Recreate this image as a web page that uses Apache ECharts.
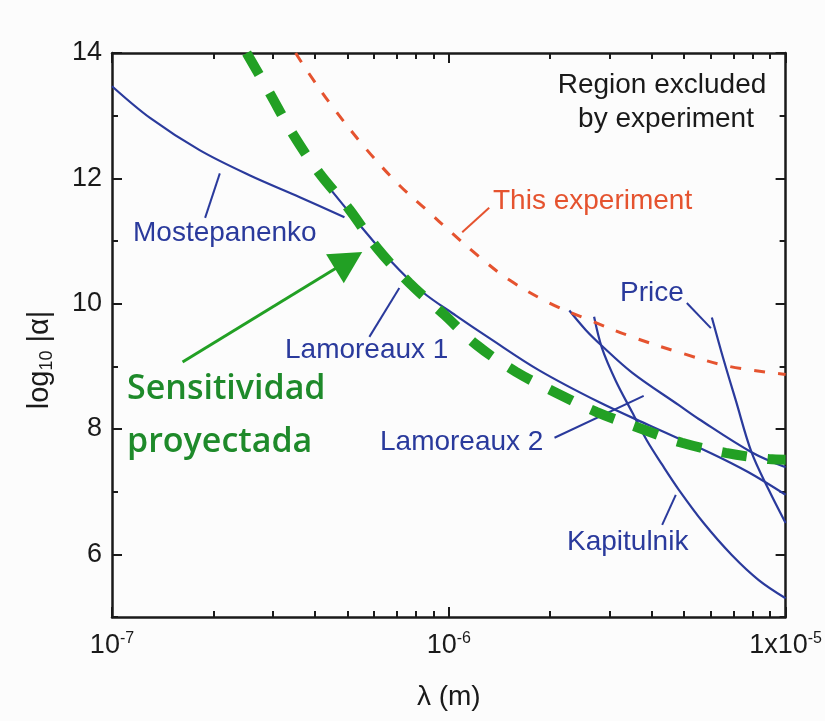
<!DOCTYPE html>
<html>
<head>
<meta charset="utf-8">
<script src="https://cdn.jsdelivr.net/npm/echarts@6/dist/echarts.min.js"></script>
<style>
html,body{margin:0;padding:0;background:#fcfcfc;}
#chart{width:825px;height:721px;}
</style>
</head>
<body>
<div id="chart"></div>
<script>
// Limits on the Yukawa strength log10|alpha| versus range lambda (m)

// ---- axes ----
const xTicks = [1e-7, 1e-6, 1e-5];
const xTickLabels = [['10', '-7'], ['10', '-6'], ['1x10', '-5']];
const yTicks = [6, 8, 10, 12, 14];
const yMinorTicks = [5, 7, 9, 11, 13];
const decadeMultipliers = [2, 3, 4, 5, 6, 7, 8, 9];

// ---- constraint curves (lambda in m, log10|alpha|) ----
const mostepanenkoLambda = [1.0e-7, 1.30e-7, 1.82e-7, 2.56e-7, 3.61e-7, 4.90e-7];
const mostepanenkoAlpha  = [13.47, 12.96, 12.45, 12.05, 11.70, 11.38];

const lamoreaux1Lambda = [4.43e-7, 5.51e-7, 6.67e-7, 8.34e-7, 1.05e-6, 1.32e-6, 1.85e-6, 2.79e-6, 3.93e-6, 5.92e-6, 7.76e-6, 1.0e-5];
const lamoreaux1Alpha  = [11.84, 11.22, 10.70, 10.19, 9.81, 9.45, 8.94, 8.43, 8.06, 7.63, 7.31, 6.95];

const lamoreaux2Lambda = [2.28e-6, 2.55e-6, 2.83e-6, 3.50e-6, 4.82e-6, 5.52e-6, 7.92e-6, 1.0e-5];
const lamoreaux2Alpha  = [9.89, 9.58, 9.34, 8.90, 8.38, 8.16, 7.63, 7.39];

const kapitulnikLambda = [2.70e-6, 2.85e-6, 3.13e-6, 3.50e-6, 3.87e-6, 4.30e-6, 4.82e-6, 5.71e-6, 6.92e-6, 8.32e-6, 1.0e-5];
const kapitulnikAlpha  = [9.79, 9.29, 8.77, 8.27, 7.82, 7.43, 7.03, 6.50, 5.99, 5.59, 5.30];

const priceLambda = [6.04e-6, 6.55e-6, 7.11e-6, 7.92e-6, 8.91e-6, 1.0e-5];
const priceAlpha  = [9.78, 9.10, 8.46, 7.63, 7.03, 6.50];

const thisExpLambda = [3.51e-7, 3.78e-7, 4.52e-7, 5.70e-7, 7.13e-7, 8.57e-7, 1.02e-6, 1.23e-6, 1.51e-6, 1.99e-6, 2.61e-6, 3.50e-6, 4.92e-6, 6.78e-6, 1.0e-5];
const thisExpAlpha  = [14.0, 13.73, 13.14, 12.46, 11.89, 11.50, 11.13, 10.75, 10.38, 10.01, 9.74, 9.47, 9.21, 9.00, 8.87];

const projectedLambda = [2.51e-7, 2.94e-7, 3.43e-7, 4.13e-7, 5.07e-7, 6.14e-7, 7.64e-7, 9.71e-7, 1.21e-6, 1.585e-6, 2.08e-6, 2.75e-6, 3.66e-6, 4.92e-6, 6.64e-6, 8.91e-6, 1.0e-5];
const projectedAlpha  = [14.0, 13.36, 12.72, 12.08, 11.50, 10.88, 10.33, 9.82, 9.34, 8.91, 8.58, 8.27, 8.02, 7.78, 7.62, 7.52, 7.51];

// ---- leader lines from labels to curves (data coordinates) ----
const leaderMostepanenko = [[1.89e-7, 11.37], [2.09e-7, 12.08]];
const leaderLamoreaux1   = [[5.81e-7, 9.47], [7.13e-7, 10.25]];
const leaderLamoreaux2   = [[2.06e-6, 7.86], [3.79e-6, 8.53]];
const leaderKapitulnik   = [[4.30e-6, 6.47], [4.72e-6, 6.95]];
const leaderPrice        = [[5.09e-6, 10.01], [6.0e-6, 9.61]];
const leaderThisExp      = [[1.096e-6, 11.14], [1.318e-6, 11.53]];
const sensitivityArrow   = [[1.62e-7, 9.07], [5.04e-7, 10.69]];

const BLUE = '#2a3a9c';
const RED = '#e5532f';
const GREEN = '#22a024';
const GREEN_TEXT = '#1e8a2a';
const INK = '#1a1a1a';
const FONT = '"Liberation Sans", Arial, Helvetica, sans-serif';
const GREEN_FONT = '"Open Sans", "Noto Sans", sans-serif';

function zip(xs, ys) { return xs.map((x, i) => [x, ys[i]]); }

const minorX = [];
[-7, -6].forEach(e => decadeMultipliers.forEach(m => minorX.push(e + Math.log10(m))));

function curve(name, xs, ys, style) {
  return {
    name, type: 'line', xAxisIndex: 0, yAxisIndex: 0,
    data: zip(xs, ys), showSymbol: false, symbol: 'none',
    smooth: 0.35, clip: true, silent: true,
    lineStyle: style, z: 3
  };
}
function leader(name, pts, color) {
  return {
    name, type: 'line', xAxisIndex: 0, yAxisIndex: 0,
    data: pts, showSymbol: false, symbol: 'none', silent: true,
    lineStyle: { color, width: 2 }, z: 4
  };
}
function label(text, x, y, color, align) {
  return {
    type: 'text', x, y, silent: true,
    style: { text, fill: color, font: '28px ' + FONT, align: align || 'left', verticalAlign: 'middle' }
  };
}

const axisLineStyle = { color: INK, width: 2.5 };

const logAxisBase = {
  type: 'log', logBase: 10, min: xTicks[0], max: xTicks[xTicks.length - 1],
  splitLine: { show: false }, minorTick: { show: false }, minorSplitLine: { show: false }
};
const minorXAxisBase = {
  type: 'value', min: -7, max: -5, splitLine: { show: false },
  axisLine: { show: false }, axisLabel: { show: false },
  axisTick: { show: true, inside: true, length: 6, customValues: minorX, lineStyle: { color: INK, width: 2 } }
};
const yBase = { type: 'value', min: 5, max: 14, splitLine: { show: false } };

const option = {
  backgroundColor: '#fcfcfc',
  animation: false,
  grid: { left: 112, top: 53, width: 675, height: 564, containLabel: false },
  xAxis: [
    Object.assign({}, logAxisBase, {
      position: 'bottom',
      axisLine: { show: true, lineStyle: axisLineStyle },
      axisTick: { show: true, inside: true, length: 10, lineStyle: { color: INK, width: 2 } },
      axisLabel: {
        show: true, margin: 14, color: INK,
        formatter: v => {
          const e = Math.round(Math.log10(v));
          const idx = xTicks.findIndex(t => Math.round(Math.log10(t)) === e);
          if (idx < 0) return '';
          return '{b|' + xTickLabels[idx][0] + '}{s|' + xTickLabels[idx][1] + '}';
        },
        rich: {
          b: { fontSize: 27, fontFamily: FONT, color: INK, lineHeight: 30 },
          s: { fontSize: 16, fontFamily: FONT, color: INK, verticalAlign: 'top', lineHeight: 16 }
        }
      },
      name: 'λ (m)', nameLocation: 'middle', nameGap: 66,
      nameTextStyle: { fontSize: 28, fontFamily: FONT, color: INK }
    }),
    Object.assign({}, minorXAxisBase, { position: 'bottom' }),
    Object.assign({}, logAxisBase, {
      position: 'top',
      axisLine: { show: true, lineStyle: axisLineStyle },
      axisTick: { show: true, inside: true, length: 10, lineStyle: { color: INK, width: 2 } },
      axisLabel: { show: false }
    }),
    Object.assign({}, minorXAxisBase, { position: 'top' })
  ],
  yAxis: [
    Object.assign({}, yBase, {
      position: 'left',
      axisLine: { show: true, lineStyle: axisLineStyle },
      axisTick: { show: true, inside: true, length: 10, customValues: yTicks, lineStyle: { color: INK, width: 2 } },
      axisLabel: { show: true, customValues: yTicks, margin: 10, fontSize: 27, fontFamily: FONT, color: INK },
      name: '{a|log}{s|10}{a| |α|}', nameLocation: 'middle', nameRotate: 90, nameGap: 56,
      nameTextStyle: {
        padding: [0, 50, 0, 0],
        rich: {
          a: { fontSize: 29, fontFamily: FONT, color: INK, lineHeight: 32 },
          s: { fontSize: 18, fontFamily: FONT, color: INK, verticalAlign: 'bottom', lineHeight: 18 }
        }
      }
    }),
    Object.assign({}, yBase, {
      position: 'left',
      axisLine: { show: false }, axisLabel: { show: false },
      axisTick: { show: true, inside: true, length: 6, customValues: yMinorTicks, lineStyle: { color: INK, width: 2 } }
    }),
    Object.assign({}, yBase, {
      position: 'right',
      axisLine: { show: true, lineStyle: axisLineStyle }, axisLabel: { show: false },
      axisTick: { show: true, inside: true, length: 10, customValues: yTicks, lineStyle: { color: INK, width: 2 } }
    }),
    Object.assign({}, yBase, {
      position: 'right',
      axisLine: { show: false }, axisLabel: { show: false },
      axisTick: { show: true, inside: true, length: 6, customValues: yMinorTicks, lineStyle: { color: INK, width: 2 } }
    })
  ],
  series: [
    curve('Mostepanenko', mostepanenkoLambda, mostepanenkoAlpha, { color: BLUE, width: 2.2 }),
    curve('Lamoreaux 1', lamoreaux1Lambda, lamoreaux1Alpha, { color: BLUE, width: 2.2 }),
    curve('Lamoreaux 2', lamoreaux2Lambda, lamoreaux2Alpha, { color: BLUE, width: 2.2 }),
    curve('Kapitulnik', kapitulnikLambda, kapitulnikAlpha, { color: BLUE, width: 2.2 }),
    curve('Price', priceLambda, priceAlpha, { color: BLUE, width: 2.2 }),
    curve('This experiment', thisExpLambda, thisExpAlpha, { color: RED, width: 3, type: [11, 13], cap: 'butt' }),
    Object.assign(curve('Sensitividad proyectada', projectedLambda, projectedAlpha,
      { color: GREEN, width: 10, type: [25, 21], cap: 'butt' }), { z: 5 }),
    leader('leader Mostepanenko', leaderMostepanenko, BLUE),
    leader('leader Lamoreaux 1', leaderLamoreaux1, BLUE),
    leader('leader Lamoreaux 2', leaderLamoreaux2, BLUE),
    leader('leader Kapitulnik', leaderKapitulnik, BLUE),
    leader('leader Price', leaderPrice, BLUE),
    leader('leader This experiment', leaderThisExp, RED),
    {
      name: 'arrow', type: 'line', xAxisIndex: 0, yAxisIndex: 0, data: [], silent: true,
      markLine: {
        silent: true, animation: false,
        symbol: ['none', 'triangle'], symbolSize: [34, 32],
        label: { show: false },
        lineStyle: { color: GREEN, width: 3, type: 'solid' },
        data: [[{ coord: sensitivityArrow[0] }, { coord: sensitivityArrow[1] }]]
      }
    }
  ],
  graphic: [
    label('Mostepanenko', 133, 233, BLUE),
    label('Lamoreaux 1', 285, 350, BLUE),
    label('Lamoreaux 2', 380, 442, BLUE),
    label('Kapitulnik', 567, 542, BLUE),
    label('Price', 620, 293, BLUE),
    label('This experiment', 493, 201, RED),
    label('Region excluded', 662, 85, INK, 'center'),
    label('by experiment', 666, 119, INK, 'center'),
    { type: 'text', x: 127, y: 389, silent: true, style: { text: 'Sensitividad', fill: GREEN_TEXT, font: '600 34px ' + GREEN_FONT, align: 'left', verticalAlign: 'middle' } },
    { type: 'text', x: 127, y: 442, silent: true, style: { text: 'proyectada', fill: GREEN_TEXT, font: '600 34px ' + GREEN_FONT, align: 'left', verticalAlign: 'middle' } }
  ]
};

const chart = echarts.init(document.getElementById('chart'), null, { renderer: 'canvas' });
chart.setOption(option);
</script>
</body>
</html>
